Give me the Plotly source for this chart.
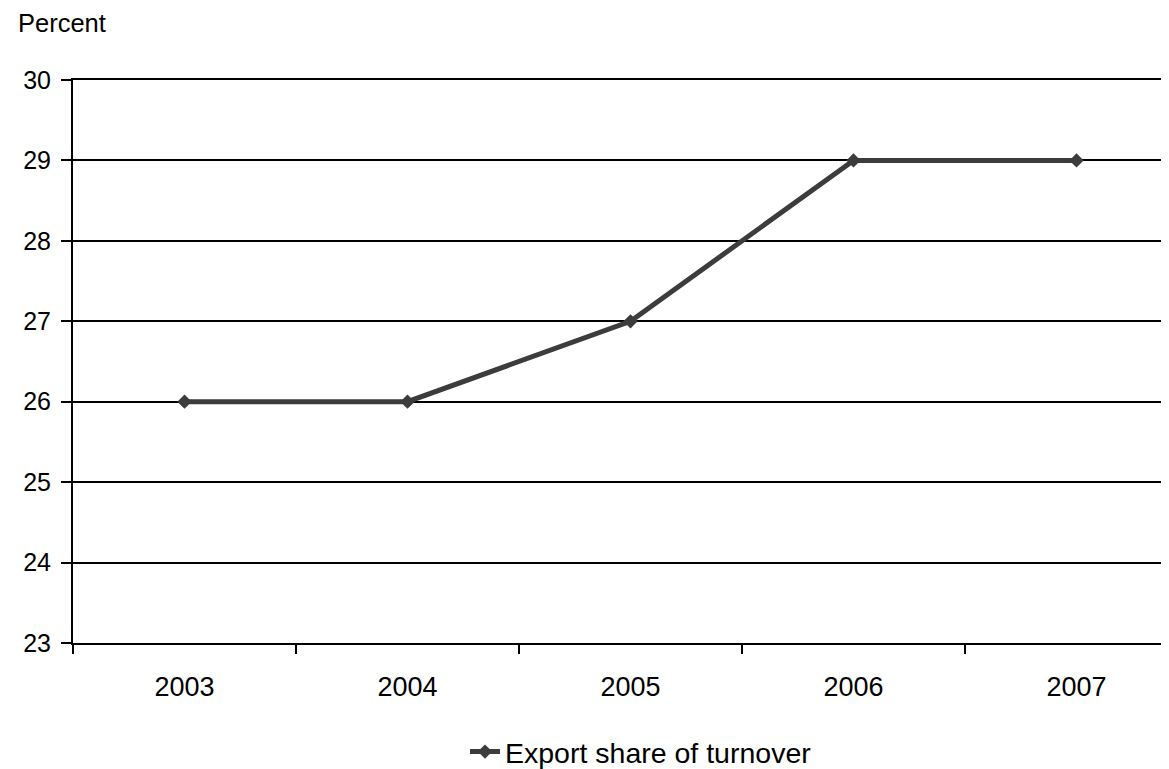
import plotly.graph_objects as go

years = ["2003", "2004", "2005", "2006", "2007"]
export_share = [26, 26, 27, 29, 29]
y_ticks = [23, 24, 25, 26, 27, 28, 29, 30]

x_idx = list(range(len(years)))

fig = go.Figure()
fig.add_trace(go.Scatter(
    x=x_idx, y=export_share, mode="lines+markers",
    name="Export share of turnover",
    line=dict(color="#3c3c3c", width=5),
    marker=dict(symbol="diamond", size=11, color="#3c3c3c"),
))
# invisible trace to activate secondary x axis (boundary tick marks)
fig.add_trace(go.Scatter(x=[-0.5], y=[23], xaxis="x2", mode="markers",
                         marker=dict(opacity=0), showlegend=False, hoverinfo="skip"))

font = "Liberation Sans, Arial, sans-serif"
W, H = 1161, 761
L, T, B = 65, 72, 126
plot_w = W - L
xr = [-0.5, -0.5 + plot_w / 223.0]
plot_h = H - T - B

fig.update_layout(
    width=W, height=H,
    paper_bgcolor="white", plot_bgcolor="white",
    margin=dict(l=L, r=0, t=T, b=B, autoexpand=False),
    font=dict(family=font, size=24, color="black"),
    showlegend=True,
    legend=dict(orientation="h", x=(633 - L) / plot_w, xanchor="center",
                y=(plot_h - (744 - T)) / plot_h, yanchor="middle",
                font=dict(size=28.5), bgcolor="rgba(0,0,0,0)"),
    xaxis=dict(range=xr, tickmode="array", tickvals=x_idx, ticktext=years,
               ticks="", showgrid=False, zeroline=False, showline=False,
               tickfont=dict(size=27), ticklabelstandoff=25),
    xaxis2=dict(range=xr, overlaying="x", side="bottom",
                tickmode="array", tickvals=[i - 0.5 for i in x_idx],
                ticktext=["" for _ in x_idx],
                ticks="outside", ticklen=9, tickwidth=2, tickcolor="black",
                showgrid=False, zeroline=False, showline=True, mirror=True,
                linecolor="black", linewidth=2, anchor="y"),
    yaxis=dict(range=[23, 30], tickmode="array", tickvals=y_ticks,
               ticks="outside", ticklen=10, tickwidth=1.5, tickcolor="black",
               showgrid=True, gridcolor="black", gridwidth=1.5,
               zeroline=False, showline=True, linecolor="black", linewidth=2,
               tickfont=dict(size=25), ticklabelstandoff=5),
    annotations=[dict(text="Percent", xref="paper", yref="paper",
                      x=(8 - L) / plot_w, y=(plot_h + (T - 15)) / plot_h,
                      xanchor="left", yanchor="middle",
                      showarrow=False, font=dict(size=25.5))],
)

fig.write_html("out.html")
